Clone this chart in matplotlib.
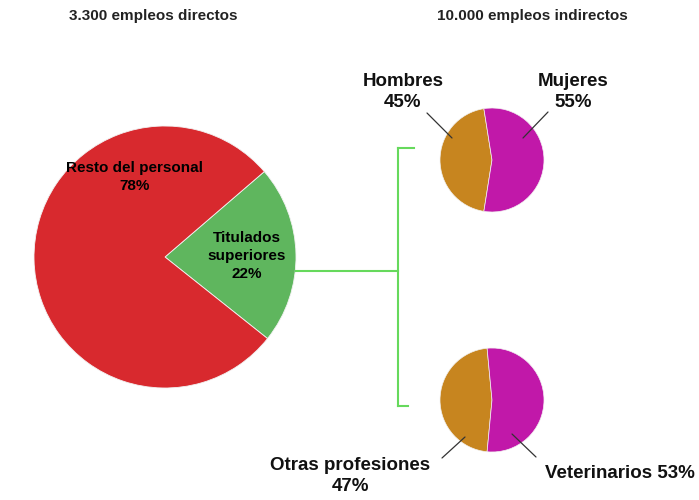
import matplotlib.pyplot as plt

# data
titulo_directos = "3.300 empleos directos"
titulo_indirectos = "10.000 empleos indirectos"

directos_labels = ["Titulados\nsuperiores", "Resto del personal"]
directos_pct = [22, 78]
directos_colors = ["#5fb65e", "#d8292e"]

sexo_labels = ["Hombres", "Mujeres"]
sexo_pct = [45, 55]

profesion_labels = ["Otras profesiones", "Veterinarios"]
profesion_pct = [47, 53]

small_colors = ["#c7851f", "#c118a9"]

plt.rcParams['font.family'] = ['Liberation Sans', 'DejaVu Sans']

fig = plt.figure(figsize=(6.99, 5.0), dpi=100)
ax = fig.add_axes([0, 0, 1, 1])

H = 500  # image height, used to flip pixel y

# big pie
ax.pie(directos_pct, colors=directos_colors, startangle=-38.5, counterclock=True,
       center=(165, H - 257), radius=131, frame=True,
       wedgeprops=dict(edgecolor='#f2f2f2', linewidth=0.6))
ax.text(135, H - 177, "%s\n%d%%" % (directos_labels[1], directos_pct[1]),
        ha='center', va='center', fontsize=11, fontweight='bold', linespacing=1.37)
ax.text(247, H - 256, "%s\n%d%%" % (directos_labels[0], directos_pct[0]),
        ha='center', va='center', fontsize=11, fontweight='bold', linespacing=1.33)

# small pies (orange centred on the left)
ax.pie(sexo_pct, colors=small_colors, startangle=180 - sexo_pct[0] * 1.8,
       center=(492, H - 160), radius=52, frame=True,
       wedgeprops=dict(edgecolor='#f2f2f2', linewidth=0.5))
ax.pie(profesion_pct, colors=small_colors, startangle=180 - profesion_pct[0] * 1.8,
       center=(492, H - 400), radius=52, frame=True,
       wedgeprops=dict(edgecolor='#f2f2f2', linewidth=0.5))

ax.set_xlim(0, 699)
ax.set_ylim(0, 500)
ax.set_aspect('equal')
ax.axis('off')

# bracket
green = '#66d95c'
ax.plot([296, 398], [H - 271, H - 271], color=green, lw=1.5)
ax.plot([398, 398], [H - 148, H - 406], color=green, lw=1.5)
ax.plot([398, 414], [H - 148, H - 148], color=green, lw=1.5)
ax.plot([398, 408], [H - 406, H - 406], color=green, lw=1.5)

lab_kw = dict(fontsize=13.5, fontweight='bold', ha='center', va='center', linespacing=1.28,
              color='#111111')
line_kw = dict(arrowstyle='-', color='#333333', lw=0.9, shrinkA=0, shrinkB=0)

ax.annotate("%s\n%d%%" % (sexo_labels[0], sexo_pct[0]), xy=(452, H - 138),
            xytext=(403, H - 92), **lab_kw)
ax.annotate("", xy=(452, H - 138), xytext=(427, H - 113), arrowprops=line_kw)
ax.annotate("%s\n%d%%" % (sexo_labels[1], sexo_pct[1]), xy=(523, H - 138),
            xytext=(573, H - 92), **lab_kw)
ax.annotate("", xy=(523, H - 138), xytext=(548, H - 112), arrowprops=line_kw)

ax.annotate("%s\n%d%%" % (profesion_labels[0], profesion_pct[0]), xy=(465, H - 437),
            xytext=(350, H - 476), **lab_kw)
ax.annotate("", xy=(465, H - 437), xytext=(442, H - 458), arrowprops=line_kw)
ax.annotate("%s %d%%" % (profesion_labels[1], profesion_pct[1]), xy=(512, H - 434),
            xytext=(620, H - 473), **lab_kw)
ax.annotate("", xy=(512, H - 434), xytext=(536, H - 457), arrowprops=line_kw)

# titles
ax.text(153, H - 16, titulo_directos, ha='center', va='center', fontsize=11, fontweight='bold', color='#222222')
ax.text(532, H - 16, titulo_indirectos, ha='center', va='center', fontsize=11, fontweight='bold', color='#222222')

fig.savefig('out.png', dpi=100)
